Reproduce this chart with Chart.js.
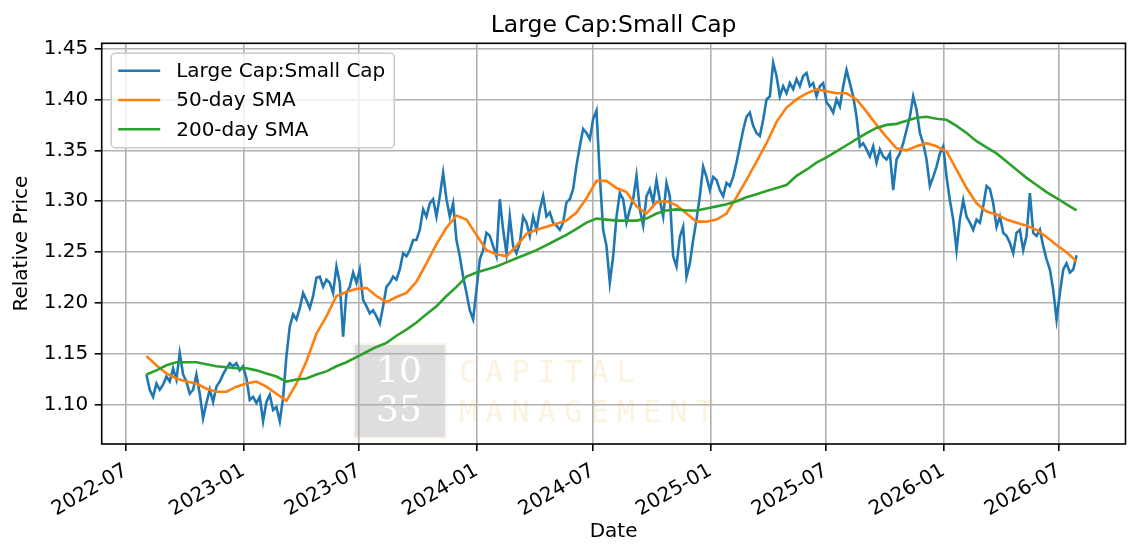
<!DOCTYPE html>
<html>
<head>
<meta charset="utf-8">
<title>Large Cap:Small Cap</title>
<script src="https://cdn.jsdelivr.net/npm/chart.js@4.4.1/dist/chart.umd.min.js"></script>
<style>
  html, body { margin: 0; padding: 0; background: #fff; }
  #wrap { width: 1140px; height: 554px; }
</style>
</head>
<body>
<div id="wrap"><canvas id="ratio-chart"></canvas></div>
<script>
const TITLE = 'Large Cap:Small Cap'
const SERIES_LABELS = ['Large Cap:Small Cap', '50-day SMA', '200-day SMA']
const SERIES_COLORS = ['#1f77b4', '#ff7f0e', '#2ca02c']

const X_TICKS = ['2022-07', '2023-01', '2023-07', '2024-01', '2024-07', '2025-01', '2025-07', '2026-01', '2026-07']
const Y_TICKS = [1.10, 1.15, 1.20, 1.25, 1.30, 1.35, 1.40, 1.45]
const X_RANGE = ['2022-05-24', '2026-10-13']
const Y_RANGE = [1.0617, 1.4551]

// ratio every 5 calendar days
const RATIO_START = '2022-08-02'
const RATIO_STEP_DAYS = 5.22
const ratio = [
  1.130, 1.115, 1.108, 1.121, 1.115, 1.120, 1.128, 1.123, 1.136, 1.125, 1.151, 1.130, 1.123,
  1.111, 1.115, 1.130, 1.111, 1.087, 1.102, 1.115, 1.103, 1.118, 1.123, 1.130, 1.136, 1.141,
  1.138, 1.141, 1.134, 1.138, 1.126, 1.105, 1.108, 1.102, 1.108, 1.084, 1.103, 1.110, 1.095,
  1.098, 1.084, 1.107, 1.148, 1.177, 1.189, 1.184, 1.195, 1.210, 1.203, 1.195, 1.207, 1.225,
  1.226, 1.216, 1.223, 1.220, 1.210, 1.236, 1.220, 1.167, 1.210, 1.216, 1.230, 1.220, 1.233,
  1.203, 1.197, 1.190, 1.193, 1.187, 1.180, 1.197, 1.216, 1.220, 1.226, 1.223, 1.233, 1.249,
  1.246, 1.252, 1.262, 1.262, 1.272, 1.292, 1.285, 1.298, 1.302, 1.285, 1.305, 1.328, 1.302,
  1.285, 1.298, 1.262, 1.246, 1.226, 1.210, 1.193, 1.184, 1.213, 1.243, 1.252, 1.269,
  1.266, 1.256, 1.246, 1.302, 1.272, 1.249, 1.285, 1.256, 1.249, 1.259, 1.285, 1.279, 1.266,
  1.285, 1.272, 1.292, 1.305, 1.285, 1.289, 1.279, 1.276, 1.272, 1.279, 1.299, 1.302, 1.312,
  1.335, 1.354, 1.371, 1.367, 1.361, 1.381, 1.389, 1.325, 1.272, 1.256, 1.220, 1.246, 1.285,
  1.308, 1.302, 1.279, 1.292, 1.302, 1.325, 1.292, 1.276, 1.305, 1.312, 1.299, 1.321,
  1.301, 1.285, 1.318, 1.305, 1.246, 1.236, 1.265, 1.275, 1.226, 1.239, 1.262, 1.282, 1.305,
  1.334, 1.324, 1.311, 1.324, 1.321, 1.311, 1.305, 1.318, 1.315, 1.324, 1.338, 1.354, 1.370,
  1.383, 1.387, 1.374, 1.367, 1.364, 1.380, 1.400, 1.403, 1.436, 1.423, 1.403, 1.413, 1.406,
  1.416, 1.410, 1.420, 1.413, 1.423, 1.426, 1.413, 1.416, 1.403, 1.413, 1.416, 1.397,
  1.393, 1.387, 1.400, 1.393, 1.413, 1.429, 1.416, 1.403, 1.383, 1.354, 1.357, 1.351, 1.344,
  1.354, 1.338, 1.351, 1.344, 1.341, 1.347, 1.311, 1.341, 1.347, 1.357, 1.370, 1.383, 1.403,
  1.390, 1.367, 1.357, 1.341, 1.315, 1.324, 1.334, 1.347, 1.354, 1.324, 1.301, 1.282, 1.252,
  1.282, 1.301, 1.285, 1.279, 1.272, 1.282, 1.279, 1.295, 1.315,
  1.312, 1.298, 1.275, 1.285, 1.269, 1.266, 1.259, 1.249, 1.269, 1.272, 1.252, 1.266, 1.308,
  1.269, 1.266, 1.272, 1.256, 1.243, 1.233, 1.213, 1.184, 1.210, 1.233, 1.239, 1.230, 1.233,
  1.247,
]

// moving averages are smooth, so a coarser reading is enough
const SMA_START = '2022-08-02'
const SMA_STEP_DAYS = 15.66
const sma50 = [
  1.148, 1.139, 1.131, 1.126, 1.123, 1.121, 1.116, 1.113, 1.113, 1.118, 1.121, 1.123, 1.118,
  1.111, 1.104, 1.121, 1.143, 1.170, 1.187, 1.207, 1.211, 1.214, 1.215, 1.207, 1.201, 1.206,
  1.210, 1.221, 1.239, 1.258, 1.274, 1.286, 1.282, 1.267, 1.252, 1.248, 1.246, 1.256, 1.268,
  1.272, 1.275, 1.278, 1.281, 1.289, 1.303, 1.320, 1.320, 1.313, 1.309, 1.295, 1.288, 1.299,
  1.300, 1.296, 1.288, 1.280, 1.280, 1.282, 1.288, 1.304, 1.321, 1.339, 1.357, 1.378, 1.392,
  1.400, 1.406, 1.410, 1.408, 1.406, 1.406, 1.400, 1.388, 1.375, 1.363, 1.352, 1.350, 1.354,
  1.357, 1.354, 1.349, 1.331, 1.313, 1.298, 1.290, 1.287, 1.282, 1.279, 1.276, 1.272, 1.265,
  1.257, 1.250, 1.241,
]
const sma200 = [
  1.130, 1.134, 1.139, 1.142, 1.142, 1.142, 1.140, 1.138, 1.137, 1.136, 1.136, 1.134, 1.131,
  1.128, 1.123, 1.125, 1.126, 1.130, 1.133, 1.138, 1.142, 1.147, 1.152, 1.157, 1.161, 1.168,
  1.174, 1.181, 1.189, 1.197, 1.207, 1.216, 1.226, 1.230, 1.233, 1.236, 1.240, 1.244, 1.248,
  1.252, 1.257, 1.262, 1.267, 1.273, 1.279, 1.283, 1.282, 1.281, 1.281, 1.281, 1.283, 1.288,
  1.291, 1.292, 1.291, 1.291, 1.293, 1.295, 1.297, 1.300, 1.304, 1.307, 1.310, 1.313, 1.316,
  1.325, 1.331, 1.338, 1.343, 1.349, 1.355, 1.361, 1.367, 1.372, 1.375, 1.376, 1.379, 1.382,
  1.383, 1.381, 1.380, 1.374, 1.367, 1.359, 1.353, 1.347, 1.339, 1.331, 1.323, 1.316, 1.309,
  1.303, 1.297, 1.291,
]

const FONT = 'DejaVu Sans'
const DAY_MS = 86400000

Chart.defaults.font.family = FONT
Chart.defaults.font.size = 20
Chart.defaults.color = '#000'

const toDay = s => Date.parse(s) / DAY_MS

function toPoints(values, start, step) {
  const d0 = toDay(start)
  return values.map((y, i) => ({ x: d0 + i * step, y }))
}

const gridStyle = {
  color: '#b0b0b0',
  lineWidth: 1.6,
  drawTicks: true,
  tickLength: 7,
  tickColor: '#000',
  tickWidth: 1.6,
}

// axes frame on all four sides, like the matplotlib spines
const framePlugin = {
  id: 'frame',
  afterDatasetsDraw(chart) {
    const { ctx, chartArea: a } = chart
    ctx.save()
    ctx.strokeStyle = '#000'
    ctx.lineWidth = 1.6
    ctx.strokeRect(a.left, a.top, a.right - a.left, a.bottom - a.top)
    ctx.restore()
  },
}

const titlePlugin = {
  id: 'axesTitle',
  afterDraw(chart) {
    const { ctx, chartArea: a } = chart
    ctx.save()
    ctx.font = `23.5px "${FONT}"`
    ctx.fillStyle = '#000'
    ctx.textAlign = 'center'
    ctx.textBaseline = 'alphabetic'
    ctx.fillText(TITLE, (a.left + a.right) / 2, 31.7)
    ctx.restore()
  },
}

// faint company logo sitting behind the grid
const watermarkPlugin = {
  id: 'watermark',
  beforeDraw(chart) {
    const { ctx } = chart
    ctx.save()
    ctx.fillStyle = '#fbf5ea'
    ctx.fillRect(353, 343, 94, 96)
    ctx.fillStyle = '#dedede'
    ctx.fillRect(355, 345, 90, 92)
    ctx.fillStyle = '#ffffff'
    ctx.font = '36px "DejaVu Serif"'
    ctx.textAlign = 'center'
    ctx.textBaseline = 'middle'
    ctx.fillText('10', 399, 373)
    ctx.fillText('35', 399, 412)
    ctx.fillStyle = '#fcf2e0'
    ctx.font = '30px "DejaVu Sans Mono"'
    ;['CAPITAL', 'MANAGEMENT'].forEach((word, row) => {
      ;[...word].forEach((ch, i) => ctx.fillText(ch, 468 + i * 26.3, 374 + row * 40))
    })
    ctx.restore()
  },
}

const legendPlugin = {
  id: 'boxLegend',
  afterDatasetsDraw(chart) {
    const { ctx, chartArea: a } = chart
    const sets = chart.data.datasets
    const left = a.left + 9.5
    const top = a.top + 10
    const rowH = 29.3
    ctx.save()
    ctx.font = `20px "${FONT}"`
    const textW = Math.max(...sets.map(d => ctx.measureText(d.label).width))
    const w = 65 + textW + 9
    const h = 17.4 + rowH * (sets.length - 1) + 18.4
    ctx.beginPath()
    ctx.roundRect(left, top, w, h, 4)
    ctx.fillStyle = 'rgba(255,255,255,0.8)'
    ctx.fill()
    ctx.strokeStyle = '#cccccc'
    ctx.lineWidth = 1.6
    ctx.stroke()
    sets.forEach((d, i) => {
      const y = top + 17.4 + i * rowH
      ctx.beginPath()
      ctx.moveTo(left + 7, y)
      ctx.lineTo(left + 49, y)
      ctx.strokeStyle = d.borderColor
      ctx.lineWidth = 2.6
      ctx.stroke()
      ctx.fillStyle = '#000'
      ctx.textAlign = 'left'
      ctx.textBaseline = 'middle'
      ctx.fillText(d.label, left + 65, y + 1)
    })
    ctx.restore()
  },
}

function renderChart() {
  const canvas = document.getElementById('ratio-chart')
  if (!canvas) return

  const series = [
    toPoints(ratio, RATIO_START, RATIO_STEP_DAYS),
    toPoints(sma50, SMA_START, SMA_STEP_DAYS),
    toPoints(sma200, SMA_START, SMA_STEP_DAYS),
  ]

  new Chart(canvas, {
    type: 'line',
    data: {
      datasets: series.map((data, i) => ({
        label: SERIES_LABELS[i],
        data,
        borderColor: SERIES_COLORS[i],
        backgroundColor: SERIES_COLORS[i],
        borderWidth: 2.6,
        pointRadius: 0,
        tension: 0,
        fill: false,
        order: series.length - i,
      })),
    },
    options: {
      responsive: true,
      maintainAspectRatio: false,
      animation: false,
      events: [],
      layout: { padding: { top: 43.3, right: 14.5, left: 0, bottom: 0 } },
      plugins: {
        legend: { display: false },
        tooltip: { enabled: false },
        title: { display: false },
      },
      scales: {
        x: {
          type: 'linear',
          min: toDay(X_RANGE[0]),
          max: toDay(X_RANGE[1]),
          afterBuildTicks: axis => {
            axis.ticks = X_TICKS.map(t => ({ value: toDay(t + '-01') }))
          },
          afterFit: axis => { axis.height = 110 },
          ticks: {
            autoSkip: false,
            minRotation: 30,
            maxRotation: 30,
            padding: 8,
            callback: (v, i) => X_TICKS[i],
          },
          grid: gridStyle,
          border: { display: false },
          title: { display: true, text: 'Date', padding: { top: 0, bottom: 10 } },
        },
        y: {
          min: Y_RANGE[0],
          max: Y_RANGE[1],
          afterBuildTicks: axis => {
            axis.ticks = Y_TICKS.map(v => ({ value: v }))
          },
          afterFit: axis => { axis.width = 101.7 },
          ticks: { padding: 6.4, callback: v => v.toFixed(2) },
          grid: gridStyle,
          border: { display: false },
          title: { display: true, text: 'Relative Price', padding: { top: 10, bottom: 0 } },
        },
      },
    },
    plugins: [watermarkPlugin, framePlugin, legendPlugin, titlePlugin],
  })
}

renderChart()
</script>
</body>
</html>
